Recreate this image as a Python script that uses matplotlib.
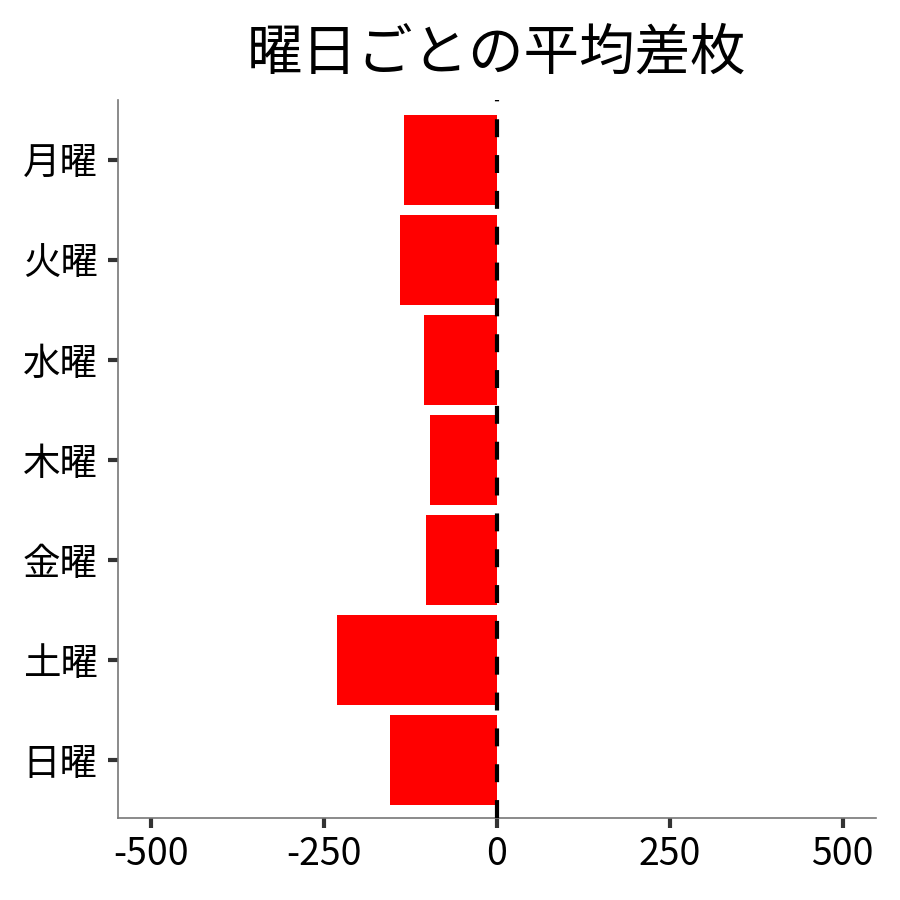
import matplotlib
matplotlib.use("Agg")
import matplotlib.pyplot as plt

plt.rcParams['font.family'] = ['Noto Sans CJK JP', 'DejaVu Sans']

days = ["月曜", "火曜", "水曜", "木曜", "金曜", "土曜", "日曜"]
avg_diff = [-134, -140, -105, -97, -103, -231, -155]
xticks = [-500, -250, 0, 250, 500]
xticklabels = ["-500", "-250", "0", "250", "500"]

fig = plt.figure(figsize=(9, 9), dpi=100)
ax = fig.add_axes([0.131, 0.091, 0.842, 0.798])

ypos = list(range(len(days)))
ax.barh(ypos, avg_diff, height=0.9, color="#ff0000", zorder=2)
ax.axvline(0, color="black", linewidth=3, linestyle=(0, (4.3, 4.3)), zorder=3)

ax.set_yticks(ypos)
ax.set_yticklabels(days, fontsize=27)
ax.set_xticks(xticks)
ax.set_xticklabels(xticklabels, fontsize=27)
ax.set_xlim(-548, 548)
ax.set_ylim(6.58, -0.6)

for s in ["top", "right"]:
    ax.spines[s].set_visible(False)
for s in ["left", "bottom"]:
    ax.spines[s].set_color("#777777")
    ax.spines[s].set_linewidth(1.2)
ax.tick_params(axis="both", color="#333333", width=3, length=7)
ax.tick_params(axis="y", pad=7.5)
ax.tick_params(axis="x", pad=5)

ax.set_title("曜日ごとの平均差枚", fontsize=40, pad=22)

fig.savefig("out.png", dpi=100)
